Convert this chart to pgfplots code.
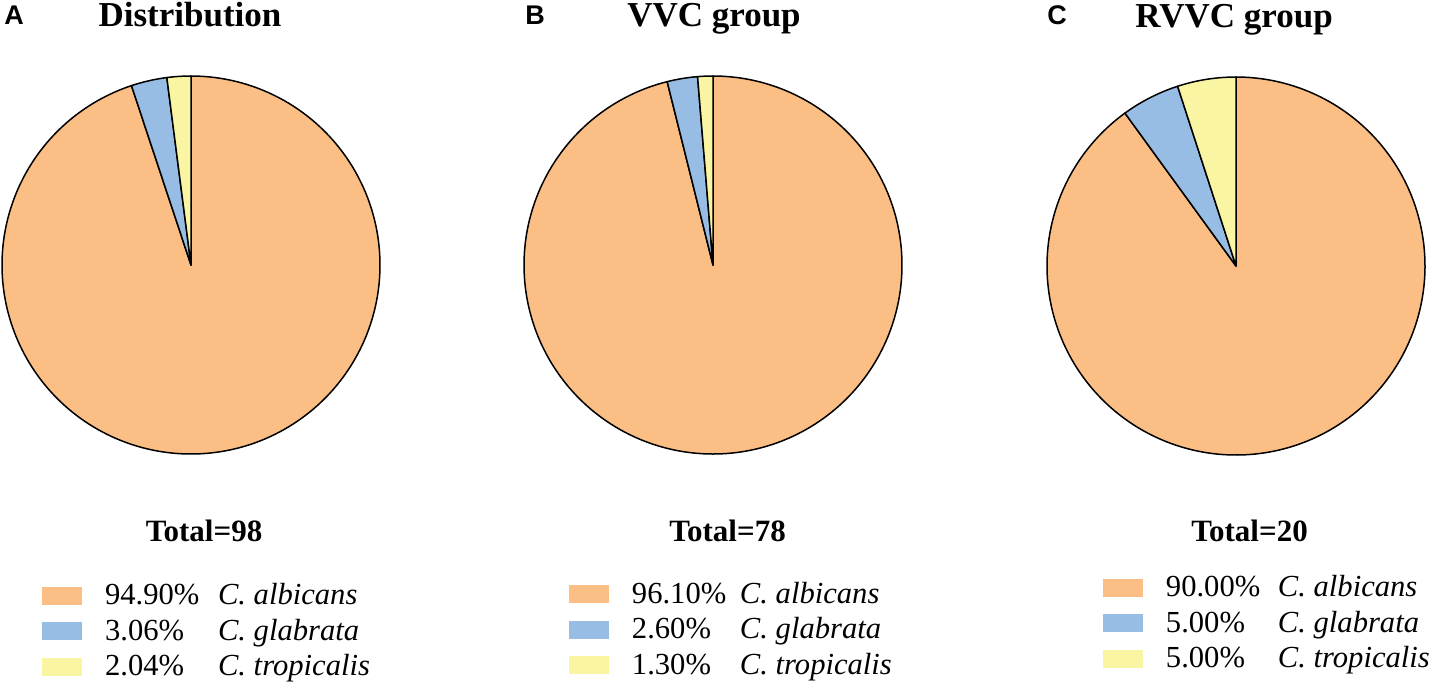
\documentclass[border=0pt]{standalone}
\usepackage{fontspec}
\setmainfont{Liberation Serif}
\newfontfamily\arialfont{Liberation Sans}
\usepackage{pgfplots}
\pgfplotsset{compat=1.18}
\usepgfplotslibrary{polar}
\definecolor{cOr}{RGB}{251,191,133}
\definecolor{cBl}{RGB}{151,189,228}
\definecolor{cYe}{RGB}{250,245,163}
% data (percent): albicans, glabrata, tropicalis
\def\Aal{94.90}\def\Agl{3.06}\def\Atr{2.04}
\def\Bal{96.10}\def\Bgl{2.60}\def\Btr{1.30}
\def\Cal{90.00}\def\Cgl{5.00}\def\Ctr{5.00}
\pgfplotsset{
  pie/.style={scale only axis, width=189pt, height=189pt, hide axis,
    xmin=0, xmax=360, ymin=0, ymax=1, clip=false,
    legend image code/.code={\fill[##1,draw=none] (0pt,0pt) rectangle (20pt,9pt);},
    legend style={draw=none, fill=none, inner sep=0pt, outer sep=0pt,
      row sep=3.75pt, anchor=north west,
      cells={anchor=base west},
      nodes={inner sep=0pt, text height=11pt, text depth=3pt, font=\fontsize{15.3}{18}\selectfont},
      /tikz/every odd column/.append style={column sep=11.5pt}},
  },
  wedge/.style={draw=black, line width=0.75pt, line join=round},
}
\newcommand\pie[3]{% albicans, glabrata, tropicalis
  \pgfmathsetmacro\tA{90+3.6*#3}%
  \pgfmathsetmacro\tB{\tA+3.6*#2}%
  \addplot[wedge, fill=cOr, domain=\tB:450, samples=241] {1} -- (axis cs:0,0) -- cycle;
  \addplot[wedge, fill=cBl, domain=\tA:\tB, samples=15] {1} -- (axis cs:0,0) -- cycle;
  \addplot[wedge, fill=cYe, domain=90:\tA, samples=15] {1} -- (axis cs:0,0) -- cycle;
}
\begin{document}
\begin{tikzpicture}
\useasboundingbox (0,0) rectangle (716.5pt,-343pt);
% Panel A
\begin{polaraxis}[pie, at={(95.5pt,-132.5pt)}, anchor=center,
  legend style={at={(0.106,-0.341)}}]
\pie{\Aal}{\Agl}{\Atr}
\addlegendentry{\makebox[56.5pt][l]{94.90\%}\textit{C. albicans}}
\addlegendentry{\makebox[56.5pt][l]{3.06\%}\textit{C. glabrata}}
\addlegendentry{\makebox[56.5pt][l]{2.04\%}\textit{C. tropicalis}}
\end{polaraxis}
% Panel B
\begin{polaraxis}[pie, at={(356.5pt,-132.5pt)}, anchor=center,
  legend style={at={(0.119,-0.336)}}]
\pie{\Bal}{\Bgl}{\Btr}
\addlegendentry{\makebox[54pt][l]{96.10\%}\textit{C. albicans}}
\addlegendentry{\makebox[54pt][l]{2.60\%}\textit{C. glabrata}}
\addlegendentry{\makebox[54pt][l]{1.30\%}\textit{C. tropicalis}}
\end{polaraxis}
% Panel C
\begin{polaraxis}[pie, at={(618pt,-133pt)}, anchor=center,
  legend style={at={(0.148,-0.317)}}]
\pie{\Cal}{\Cgl}{\Ctr}
\addlegendentry{\makebox[56pt][l]{90.00\%}\textit{C. albicans}}
\addlegendentry{\makebox[56pt][l]{5.00\%}\textit{C. glabrata}}
\addlegendentry{\makebox[56pt][l]{5.00\%}\textit{C. tropicalis}}
\end{polaraxis}
% panel letters
\begin{scope}[every node/.style={inner sep=0pt, anchor=base west, font=\arialfont\bfseries\fontsize{13.5}{15}\selectfont}]
\node at (2pt,-12pt) {A};
\node at (262.5pt,-12pt) {B};
\node at (523.5pt,-12pt) {C};
\end{scope}
% titles
\begin{scope}[every node/.style={inner sep=0pt, anchor=base, font=\bfseries\fontsize{17.5}{20}\selectfont}]
\node at (95pt,-13.2pt) {Distribution};
\node at (357pt,-13.2pt) {VVC group};
\node at (617pt,-13.5pt) {RVVC group};
\end{scope}
% totals
\begin{scope}[every node/.style={inner sep=0pt, anchor=base, font=\bfseries\fontsize{15.5}{18}\selectfont}]
\node at (102pt,-270.5pt) {Total=98};
\node at (363.75pt,-270.5pt) {Total=78};
\node at (624.75pt,-270.5pt) {Total=20};
\end{scope}
\end{tikzpicture}
\end{document}
